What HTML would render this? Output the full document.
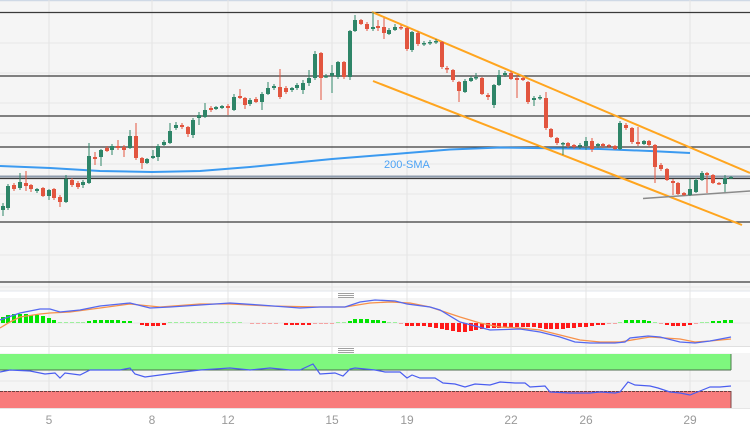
<!DOCTYPE html>
<html><head><meta charset="utf-8"><style>
html,body{margin:0;padding:0;background:#fff;}
svg{display:block;font-family:"Liberation Sans",sans-serif;}
</style></head><body>
<svg width="750" height="430" viewBox="0 0 750 430" xmlns="http://www.w3.org/2000/svg">
<rect x="0" y="0" width="750" height="430" fill="#ffffff"/>
<!-- panel backgrounds -->
<rect x="0" y="0" width="750" height="291" fill="#f5f5f5"/>
<rect x="0" y="298" width="750" height="48" fill="#f5f5f5"/>
<rect x="0" y="353" width="750" height="55" fill="#f5f5f5"/>
<line x1="0" y1="0.5" x2="750" y2="0.5" stroke="#cfd9e6" stroke-width="1.5"/>
<line x1="0" y1="291" x2="750" y2="291" stroke="#e2e6ec" stroke-width="1"/>
<line x1="0" y1="346.5" x2="750" y2="346.5" stroke="#e0e0e0" stroke-width="1"/>
<line x1="0" y1="408.5" x2="750" y2="408.5" stroke="#e6e6e6" stroke-width="1"/>
<!-- light horizontal grid -->
<g stroke="#e8e8e8" stroke-width="1">
<line x1="0" y1="43" x2="750" y2="43"/><line x1="0" y1="73" x2="750" y2="73"/>
<line x1="0" y1="103" x2="750" y2="103"/><line x1="0" y1="133" x2="750" y2="133"/>
<line x1="0" y1="164" x2="750" y2="164"/><line x1="0" y1="194" x2="750" y2="194"/>
<line x1="0" y1="255" x2="750" y2="255"/><line x1="0" y1="287" x2="750" y2="287"/>
<line x1="0" y1="323" x2="750" y2="323"/><line x1="0" y1="381" x2="750" y2="381"/>
</g>
<!-- vertical grid -->
<g stroke="#e4e4e4" stroke-width="1">
<line x1="49" y1="0" x2="49" y2="408"/><line x1="152" y1="0" x2="152" y2="408"/>
<line x1="228" y1="0" x2="228" y2="408"/><line x1="332" y1="0" x2="332" y2="408"/>
<line x1="407" y1="0" x2="407" y2="408"/><line x1="511" y1="0" x2="511" y2="408"/>
<line x1="586" y1="0" x2="586" y2="408"/><line x1="690" y1="0" x2="690" y2="408"/>
</g>
<!-- S/R horizontal lines -->
<g stroke="#3a3a3a" stroke-width="1.3">
<line x1="0" y1="12.5" x2="750" y2="12.5"/><line x1="0" y1="76" x2="750" y2="76"/>
<line x1="0" y1="116" x2="750" y2="116"/><line x1="0" y1="147" x2="750" y2="147"/>
<line x1="0" y1="178.5" x2="750" y2="178.5"/><line x1="0" y1="222" x2="750" y2="222"/>
<line x1="0" y1="282" x2="750" y2="282"/>
</g>
<line x1="0" y1="176.5" x2="750" y2="176.5" stroke="#8e9cad" stroke-width="2"/>
<!-- 200 SMA -->
<polyline fill="none" stroke="#3b9af0" stroke-width="2" points="0,166 50,168 100,171 152,172 200,171 250,167 332,159 407,153 450,149.5 500,147.5 600,149 650,151 690,153"/>
<text x="384" y="168" font-size="11" fill="#4da3f5">200-SMA</text>
<!-- channel lines -->
<g stroke="#ffa51f" stroke-width="2" fill="none">
<line x1="372" y1="12" x2="750" y2="173"/>
<line x1="373" y1="81" x2="742" y2="225"/>
</g>
<line x1="643" y1="198.5" x2="750" y2="191" stroke="#8a8a8a" stroke-width="1.6"/>
<!-- green candles -->
<g fill="#2e8568" stroke="#2e8568">
<path fill="none" stroke-width="1" d="M3 203V216M8 184V210M20 173V190M37 188V193M49 189V200M66 175V203M83 180V188M89 143V184M101 149V166M112 144V155M130 130V149M147 158V164M153 150V159M158 144V161M164 140V146M170 123V144M176 122V130M193 118V138M199 112V125M205 103V118M216 106V110M222 105V109M234 94V111M250 98V106M262 92V110M268 82V95M274 84V90M292 87V92M297 83V90M303 80V94M309 70V86M315 51V80M326 74V78M332 65V93M338 61V79M350 30V80M355 15V32M373 12V31M389 28V35M395 24V31M412 31V52M424 41V46M430 40V45M436 39V44M465 79V93M471 76V82M476 73V80M494 84V108M499 70V86M505 71V77M534 96V106M540 95V100M563 142V155M580 143V149M586 137V150M598 143V148M620 121V150M644 140V145M690 179V196M696 178V193M702 171V181M725 175V192M731 176V179"/>
<g stroke="none">
<rect x="1" y="206" width="4" height="4"/><rect x="6" y="186" width="4" height="22"/><rect x="18" y="182" width="4" height="6"/><rect x="35" y="189" width="4" height="2"/><rect x="47" y="190" width="4" height="6"/><rect x="64" y="179" width="4" height="23"/><rect x="81" y="182" width="4" height="3"/><rect x="87" y="156" width="4" height="27"/><rect x="99" y="150" width="4" height="7"/><rect x="110" y="146" width="4" height="4"/><rect x="128" y="136" width="4" height="12"/><rect x="145" y="159" width="4" height="4"/><rect x="151" y="156" width="4" height="2"/><rect x="156" y="146" width="4" height="11"/><rect x="162" y="142" width="4" height="3"/><rect x="168" y="131" width="4" height="12"/><rect x="174" y="125" width="4" height="3"/><rect x="191" y="120" width="4" height="15"/><rect x="197" y="115" width="4" height="3"/><rect x="203" y="110" width="4" height="7"/><rect x="214" y="107" width="4" height="2"/><rect x="220" y="106" width="4" height="2"/><rect x="232" y="97" width="4" height="13"/><rect x="248" y="100" width="4" height="4"/><rect x="260" y="94" width="4" height="8"/><rect x="266" y="88" width="4" height="6"/><rect x="272" y="86" width="4" height="2"/><rect x="290" y="88" width="4" height="2"/><rect x="295" y="85" width="4" height="3"/><rect x="301" y="83" width="4" height="7"/><rect x="307" y="78" width="4" height="5"/><rect x="313" y="54" width="4" height="24"/><rect x="324" y="76" width="4" height="1.5"/><rect x="330" y="73" width="4" height="3"/><rect x="336" y="62" width="4" height="15"/><rect x="348" y="31" width="4" height="46"/><rect x="353" y="20" width="4" height="11"/><rect x="371" y="27" width="4" height="2"/><rect x="387" y="30" width="4" height="4"/><rect x="393" y="27" width="4" height="3"/><rect x="410" y="32" width="4" height="18"/><rect x="422" y="43" width="4" height="1.5"/><rect x="428" y="42" width="4" height="1.5"/><rect x="434" y="41" width="4" height="1.5"/><rect x="463" y="81" width="4" height="11"/><rect x="469" y="78" width="4" height="3"/><rect x="474" y="77" width="4" height="1.5"/><rect x="492" y="85" width="4" height="20"/><rect x="497" y="75" width="4" height="10"/><rect x="503" y="73" width="4" height="2"/><rect x="532" y="98" width="4" height="2"/><rect x="538" y="97" width="4" height="1.5"/><rect x="561" y="143" width="4" height="1.5"/><rect x="578" y="145" width="4" height="1.5"/><rect x="584" y="141" width="4" height="5"/><rect x="596" y="144" width="4" height="2"/><rect x="618" y="123" width="4" height="26"/><rect x="642" y="141" width="4" height="3"/><rect x="688" y="189" width="4" height="6"/><rect x="694" y="180" width="4" height="12"/><rect x="700" y="173" width="4" height="7"/><rect x="723" y="178" width="4" height="6"/><rect x="729" y="177" width="4" height="1.5"/>
</g></g>
<!-- red candles -->
<g fill="#e2553f" stroke="#e2553f">
<path fill="none" stroke-width="1" d="M14 183V191M26 171V191M31 184V192M43 187V197M54 188V200M60 195V207M72 178V187M78 181V189M95 152V165M107 146V152M118 140V150M124 145V157M136 123V160M142 157V169M182 123V129M188 126V137M211 106V112M228 104V115M240 89V99M245 97V109M256 97V103M280 69V99M286 86V94M321 52V100M344 61V79M361 19V25M367 22V31M378 20V31M384 18V39M401 25V30M407 27V51M418 31V46M442 41V69M447 66V73M453 69V82M459 81V102M482 77V95M488 93V100M511 71V80M517 75V98M523 77V81M528 81V104M546 92V130M551 128V138M557 137V145M568 142V148M574 144V149M592 138V152M603 143V148M609 144V148M615 145V150M626 123V130M632 127V144M638 127V146M649 140V147M655 144V183M661 163V171M667 168V181M673 179V195M678 182V195M684 192V196M707 172V193M713 174V184M719 182V185"/>
<g stroke="none">
<rect x="12" y="185" width="4" height="4"/><rect x="24" y="183" width="4" height="3"/><rect x="29" y="185" width="4" height="4"/><rect x="41" y="188" width="4" height="8"/><rect x="52" y="189" width="4" height="9"/><rect x="58" y="197" width="4" height="5"/><rect x="70" y="180" width="4" height="5"/><rect x="76" y="183" width="4" height="4"/><rect x="93" y="157" width="4" height="2"/><rect x="105" y="148" width="4" height="3"/><rect x="116" y="146" width="4" height="2"/><rect x="122" y="147" width="4" height="3"/><rect x="134" y="136" width="4" height="22"/><rect x="140" y="158" width="4" height="5"/><rect x="180" y="125" width="4" height="2"/><rect x="186" y="127" width="4" height="7"/><rect x="209" y="108" width="4" height="2"/><rect x="226" y="106" width="4" height="2"/><rect x="238" y="96" width="4" height="2"/><rect x="243" y="98" width="4" height="7"/><rect x="254" y="99" width="4" height="3"/><rect x="278" y="87" width="4" height="10"/><rect x="284" y="88" width="4" height="4"/><rect x="319" y="53" width="4" height="25"/><rect x="342" y="62" width="4" height="15"/><rect x="359" y="20" width="4" height="4"/><rect x="365" y="24" width="4" height="5"/><rect x="376" y="26" width="4" height="2"/><rect x="382" y="27" width="4" height="6"/><rect x="399" y="27" width="4" height="1.5"/><rect x="405" y="28" width="4" height="21"/><rect x="416" y="33" width="4" height="11"/><rect x="440" y="42" width="4" height="25"/><rect x="445" y="68" width="4" height="1.5"/><rect x="451" y="70" width="4" height="10"/><rect x="457" y="82" width="4" height="9"/><rect x="480" y="78" width="4" height="16"/><rect x="486" y="95" width="4" height="2"/><rect x="509" y="73" width="4" height="6"/><rect x="515" y="78" width="4" height="2"/><rect x="521" y="78" width="4" height="2"/><rect x="526" y="82" width="4" height="20"/><rect x="544" y="98" width="4" height="30"/><rect x="549" y="129" width="4" height="8"/><rect x="555" y="138" width="4" height="5"/><rect x="566" y="143" width="4" height="3"/><rect x="572" y="145" width="4" height="2"/><rect x="590" y="141" width="4" height="8"/><rect x="601" y="144" width="4" height="2"/><rect x="607" y="145" width="4" height="1.5"/><rect x="613" y="146" width="4" height="3"/><rect x="624" y="125" width="4" height="3"/><rect x="630" y="128" width="4" height="14"/><rect x="636" y="142" width="4" height="2"/><rect x="647" y="141" width="4" height="4"/><rect x="653" y="145" width="4" height="22"/><rect x="659" y="165" width="4" height="4"/><rect x="665" y="169" width="4" height="11"/><rect x="671" y="181" width="4" height="2"/><rect x="676" y="183" width="4" height="11"/><rect x="682" y="193" width="4" height="2"/><rect x="705" y="173" width="4" height="2"/><rect x="711" y="175" width="4" height="8"/><rect x="717" y="183" width="4" height="1.5"/>
</g></g>
<!-- handles -->
<g stroke="#a0a0a0" stroke-width="1">
<line x1="338" y1="293.5" x2="354" y2="293.5"/><line x1="338" y1="295.5" x2="354" y2="295.5"/><line x1="338" y1="297.5" x2="354" y2="297.5"/>
<line x1="338" y1="348.5" x2="354" y2="348.5"/><line x1="338" y1="350.5" x2="354" y2="350.5"/><line x1="338" y1="352.5" x2="354" y2="352.5"/>
</g>
<!-- MACD histogram -->
<g fill="#00e400">
<rect x="1" y="317" width="4" height="6"/><rect x="6" y="315" width="4" height="8"/><rect x="12" y="314" width="4" height="9"/><rect x="18" y="314" width="4" height="9"/><rect x="24" y="314" width="4" height="9"/><rect x="29" y="315" width="4" height="8"/><rect x="35" y="315" width="4" height="8"/><rect x="41" y="316" width="4" height="7"/><rect x="47" y="318" width="4" height="5"/><rect x="52" y="320" width="4" height="3"/>
<rect x="87" y="321" width="4" height="2"/><rect x="93" y="320" width="4" height="3"/><rect x="99" y="320" width="4" height="3"/><rect x="105" y="320" width="4" height="3"/><rect x="110" y="320" width="4" height="3"/><rect x="116" y="320" width="4" height="3"/><rect x="122" y="321" width="4" height="2"/><rect x="128" y="321" width="4" height="2"/>
<rect x="348" y="321" width="4" height="2"/><rect x="353" y="319" width="4" height="4"/><rect x="359" y="319" width="4" height="4"/><rect x="365" y="319" width="4" height="4"/><rect x="371" y="320" width="4" height="3"/><rect x="376" y="320" width="4" height="3"/><rect x="382" y="321" width="4" height="2"/>
<rect x="624" y="320" width="4" height="3"/><rect x="630" y="320" width="4" height="3"/><rect x="636" y="320" width="4" height="3"/><rect x="642" y="320" width="4" height="3"/><rect x="647" y="321" width="4" height="2"/>
<rect x="711" y="321" width="4" height="2"/><rect x="717" y="321" width="4" height="2"/><rect x="723" y="320" width="4" height="3"/><rect x="729" y="320" width="4" height="3"/>
</g>
<g fill="#9eef9e">
<rect x="58" y="322" width="4" height="1"/><rect x="64" y="322" width="4" height="1"/><rect x="70" y="322" width="4" height="1"/><rect x="76" y="322" width="4" height="1"/><rect x="81" y="322" width="4" height="1"/>
<rect x="168" y="322" width="4" height="1"/><rect x="174" y="322" width="4" height="1"/><rect x="180" y="322" width="4" height="1"/><rect x="186" y="322" width="4" height="1"/><rect x="191" y="322" width="4" height="1"/><rect x="197" y="322" width="4" height="1"/><rect x="203" y="322" width="4" height="1"/><rect x="209" y="322" width="4" height="1"/><rect x="214" y="322" width="4" height="1"/><rect x="220" y="322" width="4" height="1"/><rect x="226" y="322" width="4" height="1"/><rect x="232" y="322" width="4" height="1"/><rect x="238" y="322" width="4" height="1"/>
<rect x="336" y="322" width="4" height="1"/><rect x="342" y="322" width="4" height="1"/><rect x="387" y="322" width="4" height="1"/><rect x="393" y="322" width="4" height="1"/>
<rect x="618" y="322" width="4" height="1"/><rect x="653" y="322" width="4" height="1"/><rect x="700" y="322" width="4" height="1"/><rect x="705" y="322" width="4" height="1"/>
</g>
<g fill="#ff1a1a">
<rect x="140" y="323" width="4" height="2"/><rect x="145" y="323" width="4" height="3"/><rect x="151" y="323" width="4" height="3"/><rect x="156" y="323" width="4" height="3"/><rect x="162" y="323" width="4" height="2"/>
<rect x="284" y="323" width="4" height="2"/><rect x="290" y="323" width="4" height="2"/><rect x="295" y="323" width="4" height="2"/><rect x="301" y="323" width="4" height="2"/><rect x="307" y="323" width="4" height="2"/>
<rect x="405" y="323" width="4" height="3"/><rect x="410" y="323" width="4" height="3"/><rect x="416" y="323" width="4" height="3"/><rect x="422" y="323" width="4" height="3"/><rect x="428" y="323" width="4" height="4"/><rect x="434" y="323" width="4" height="5"/><rect x="440" y="323" width="4" height="6"/><rect x="445" y="323" width="4" height="7"/><rect x="451" y="323" width="4" height="8"/><rect x="457" y="323" width="4" height="9"/><rect x="463" y="323" width="4" height="9"/><rect x="469" y="323" width="4" height="8"/><rect x="474" y="323" width="4" height="7"/><rect x="480" y="323" width="4" height="6"/><rect x="486" y="323" width="4" height="5"/><rect x="492" y="323" width="4" height="5"/><rect x="497" y="323" width="4" height="5"/><rect x="503" y="323" width="4" height="4"/><rect x="509" y="323" width="4" height="4"/><rect x="515" y="323" width="4" height="4"/><rect x="521" y="323" width="4" height="4"/><rect x="526" y="323" width="4" height="4"/><rect x="532" y="323" width="4" height="4"/><rect x="538" y="323" width="4" height="5"/><rect x="544" y="323" width="4" height="6"/><rect x="549" y="323" width="4" height="6"/><rect x="555" y="323" width="4" height="6"/><rect x="561" y="323" width="4" height="6"/><rect x="566" y="323" width="4" height="5"/><rect x="572" y="323" width="4" height="5"/><rect x="578" y="323" width="4" height="4"/><rect x="584" y="323" width="4" height="4"/><rect x="590" y="323" width="4" height="3"/><rect x="596" y="323" width="4" height="2"/><rect x="601" y="323" width="4" height="2"/>
<rect x="665" y="323" width="4" height="2"/><rect x="671" y="323" width="4" height="3"/><rect x="676" y="323" width="4" height="3"/><rect x="682" y="323" width="4" height="3"/><rect x="688" y="323" width="4" height="2"/>
</g>
<g fill="#f5a3a3">
<rect x="250" y="323" width="4" height="1"/><rect x="256" y="323" width="4" height="1"/><rect x="262" y="323" width="4" height="1"/><rect x="268" y="323" width="4" height="1"/><rect x="274" y="323" width="4" height="1"/><rect x="313" y="323" width="4" height="1"/><rect x="319" y="323" width="4" height="1"/><rect x="324" y="323" width="4" height="1"/><rect x="330" y="323" width="4" height="1"/><rect x="399" y="323" width="4" height="1"/><rect x="607" y="323" width="4" height="1"/><rect x="613" y="323" width="4" height="1"/><rect x="659" y="323" width="4" height="1"/><rect x="694" y="323" width="4" height="1"/>
</g>
<!-- MACD lines -->
<polyline fill="none" stroke="#f7914a" stroke-width="1.3" points="0,328 10,322 20,317 40,314 50,313 70,312 100,308 130,304 160,307 200,304 230,304 270,306 320,307 345,307 370,303 390,302 410,303 430,307 460,317 480,323 500,327 520,328 540,330 560,335 580,340 600,342 620,342 650,337 680,339 695,342 710,341 731,339"/>
<polyline fill="none" stroke="#5468f0" stroke-width="1.3" points="0,320 20,313 30,311 40,309 50,309 60,312 80,310 100,306 120,304 130,303 150,308 170,307 200,305 230,303 260,305 300,308 320,307 345,307 360,302 375,300 395,301 407,304 430,307 440,310 460,322 490,330 520,329 540,332 560,337 575,342 590,343 615,343 625,342 630,338 648,336 660,337 680,342 695,343 710,341 731,337"/>
<!-- RSI bands -->
<rect x="0" y="354" width="731" height="16" fill="#7ef77e"/>
<rect x="0" y="391" width="731" height="17" fill="#f87c7c"/>
<line x1="0" y1="370" x2="731" y2="370" stroke="#4d6b4d" stroke-width="1"/>
<line x1="731" y1="354" x2="731" y2="370" stroke="#4d7a4d" stroke-width="1"/>
<line x1="0" y1="391.5" x2="731" y2="391.5" stroke="#6b4040" stroke-width="1" stroke-dasharray="3,1"/>
<line x1="731" y1="391" x2="731" y2="408" stroke="#7a4a4a" stroke-width="1"/>
<polyline fill="none" stroke="#4a5df0" stroke-width="1.2" points="0,372 10,370 30,371 45,374 55,373 60,378 65,373 80,375 90,370 120,370 130,368 135,374 145,377 160,375 175,373 200,370 230,368 250,370 270,368 290,370 300,370 313,364 320,374 335,373 343,376 350,369 355,368 375,370 385,372 400,372 407,378 412,375 420,378 435,378 443,383 455,384 465,387 475,384 490,385 500,382 515,383 525,383 530,387 545,386 550,392 570,393 590,393 600,392 615,393 620,392 628,382 635,385 650,386 658,388 670,392 680,393 690,395 700,391 710,387 720,387 731,386"/>
<!-- x labels -->
<g font-size="12" fill="#9a9a9a" text-anchor="middle">
<text x="49" y="424">5</text><text x="152" y="424">8</text><text x="228" y="424">12</text><text x="332" y="424">15</text>
<text x="407" y="424">19</text><text x="511" y="424">22</text><text x="586" y="424">26</text><text x="690" y="424">29</text>
</g>
</svg>
</body></html>
